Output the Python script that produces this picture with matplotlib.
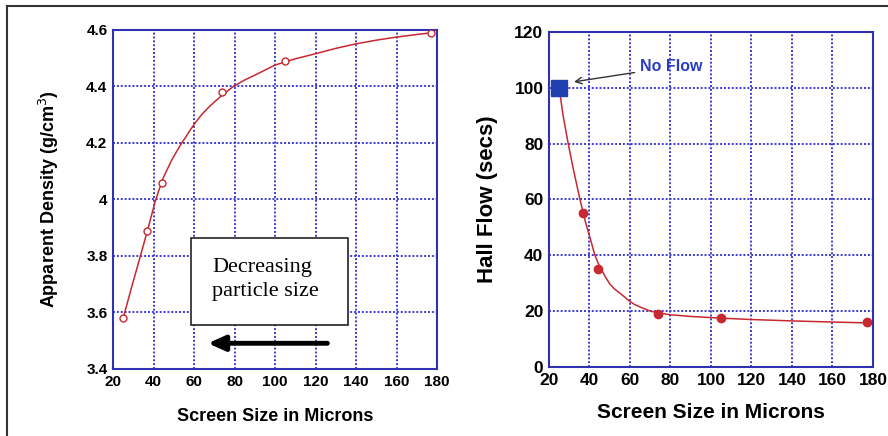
import numpy as np
import matplotlib.pyplot as plt
from matplotlib.lines import Line2D

# Measured points
size_um = [25, 37, 44, 74, 105, 177]
density = [3.58, 3.89, 4.06, 4.38, 4.49, 4.59]
flow_x = [37, 44, 74, 105, 177]
flow_s = [55, 35, 19, 17.5, 16]
noflow_x = [25]
noflow_s = [100]

# Fitted curves
dens_fit_x = [25, 29, 33.3, 37, 40.7, 42.5, 45, 47, 49, 51, 53.9, 56, 58, 61, 63.7, 67,
              70, 74, 79.4, 85, 90, 100, 110, 120, 130, 140, 150, 160, 170, 177]
dens_fit_y = [3.58, 3.685, 3.795, 3.89, 3.99, 4.03, 4.08, 4.11, 4.14, 4.165, 4.2, 4.222, 4.245,
              4.275, 4.3, 4.325, 4.345, 4.37, 4.4, 4.423, 4.44, 4.476, 4.498, 4.516, 4.535,
              4.551, 4.564, 4.575, 4.584, 4.59]
flow_fit_x = [25, 27, 29.5, 32, 35.3, 38, 40, 42.7, 45, 48.5, 50, 52, 54, 56.5, 59, 62, 65,
              70, 75, 80, 90, 105, 120, 140, 160, 177]
flow_fit_y = [100, 90, 80, 71, 60, 52, 47, 40, 36, 31.5, 29.8, 28.2, 27, 25.6, 24, 22.5, 21.5,
              20, 19.3, 18.7, 18.1, 17.5, 17.0, 16.5, 16.1, 15.8]

xticks = [20, 40, 60, 80, 100, 120, 140, 160, 180]
dens_ticks = [3.4, 3.6, 3.8, 4.0, 4.2, 4.4, 4.6]
dens_labels = ['3.4', '3.6', '3.8', '4', '4.2', '4.4', '4.6']
flow_ticks = [0, 20, 40, 60, 80, 100, 120]

plt.rcParams['font.family'] = ['Liberation Sans', 'DejaVu Sans']

GRID = '#3b3bd6'
SPINE = '#3030b0'
RED = '#c82830'

fig = plt.figure(figsize=(8.88, 4.36), dpi=100)
ax1 = fig.add_axes([0.1273, 0.1537, 0.3649, 0.7775])
ax2 = fig.add_axes([0.6182, 0.1583, 0.3649, 0.7683])

def style(ax, yticks, ylabels, fs):
    ax.set_xlim(20, 180)
    ax.set_xticks(xticks)
    ax.set_yticks(yticks)
    ax.set_yticklabels(ylabels)
    ax.grid(True, color=GRID, linestyle=(0, (1, 1)), linewidth=1.4)
    ax.set_axisbelow(True)
    for s in ax.spines.values():
        s.set_color(SPINE)
        s.set_linewidth(1.5)
    ax.tick_params(length=0, pad=4, labelsize=fs)
    for lab in ax.get_xticklabels() + ax.get_yticklabels():
        lab.set_fontweight('bold')

# left panel
ax1.set_ylim(3.4, 4.6)
style(ax1, dens_ticks, dens_labels, 11)
ax1.plot(dens_fit_x, dens_fit_y, color=RED, lw=1.1, zorder=3)
ax1.plot(size_um, density, 'o', mfc='white', mec=RED, ms=5, mew=1, zorder=4)
ax1.set_xlabel('Screen Size in Microns', fontsize=13, fontweight='bold', labelpad=14)
ax1.set_ylabel('Apparent Density (g/cm$^3$)', fontsize=13, fontweight='bold', labelpad=18)
ax1.add_patch(plt.Rectangle((58.4, 3.556), 77.8, 0.307, facecolor='white',
                            edgecolor='#222222', lw=1.2, zorder=5))
ax1.text(68.9, 3.718, 'Decreasing\nparticle size', ha='left', va='center',
         fontsize=16, family='Liberation Serif', linespacing=1.35, zorder=6)
ax1.annotate('', xy=(65.5, 3.491), xytext=(127.2, 3.491),
             arrowprops=dict(arrowstyle='-|>,head_width=0.45,head_length=1.0',
                             color='black', lw=3.5), zorder=6)

# right panel
ax2.set_ylim(0, 120)
style(ax2, flow_ticks, [str(t) for t in flow_ticks], 12.5)
ax2.plot(flow_fit_x, flow_fit_y, color=RED, lw=1.1, zorder=3)
ax2.plot(flow_x, flow_s, 'o', color=RED, ms=6, zorder=4)
ax2.plot(noflow_x, noflow_s, 's', color='#2040b0', ms=12, zorder=5)
ax2.annotate('No Flow', xy=(31, 102), xytext=(65, 107.5), fontsize=11.5,
             fontweight='bold', color='#2a3cc0', va='center',
             arrowprops=dict(arrowstyle='->', color='#333333', lw=1))
ax2.set_xlabel('Screen Size in Microns', fontsize=15, fontweight='bold', labelpad=11)
ax2.set_ylabel('Hall Flow (secs)', fontsize=16, fontweight='bold', labelpad=12)

# outer frame (left and top edges)
fig.add_artist(Line2D([7 / 888, 7 / 888], [0, 1 - 6 / 436], transform=fig.transFigure,
                      color='#333333', lw=1.5))
fig.add_artist(Line2D([7 / 888, 1], [1 - 6 / 436, 1 - 6 / 436], transform=fig.transFigure,
                      color='#333333', lw=1.5))

fig.savefig('out.png', dpi=100)
